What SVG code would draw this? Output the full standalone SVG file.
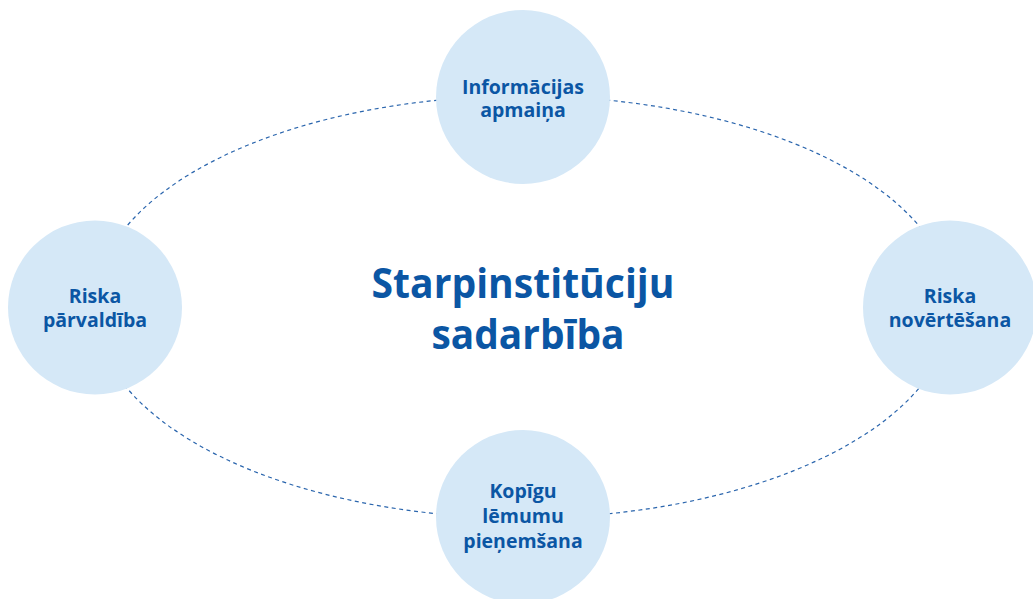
<svg xmlns="http://www.w3.org/2000/svg" width="1033" height="599" viewBox="0 0 1033 599">
<style>
.node circle{fill:#d5e8f7;}
.lbl{font-family:"Open Sans","Noto Sans",sans-serif;font-weight:700;font-size:19.5px;fill:#0b56a4;text-anchor:middle;}
.title{font-family:"Open Sans","Noto Sans",sans-serif;font-weight:700;font-size:42px;fill:#0b56a4;text-anchor:middle;}
.conn{fill:none;stroke:#2a65ad;stroke-width:1.2;stroke-dasharray:4 3.5;}
</style>
<rect width="1033" height="599" fill="#ffffff"/>
<g id="connectors">
<ellipse class="conn" cx="523" cy="307" rx="429" ry="211"/>
</g>
<g id="center">
<text class="title" x="523" y="298" textLength="303" lengthAdjust="spacingAndGlyphs">Starpinstitūciju</text>
<text class="title" x="528" y="349" textLength="193" lengthAdjust="spacingAndGlyphs">sadarbība</text>
</g>
<g id="node-top" class="node">
<circle cx="523" cy="97" r="87"/>
<text class="lbl" x="523" y="94">Informācijas</text>
<text class="lbl" x="523" y="117">apmaiņa</text>
</g>
<g id="node-left" class="node">
<circle cx="95" cy="307.5" r="87"/>
<text class="lbl" x="95" y="303">Riska</text>
<text class="lbl" x="95" y="327">pārvaldība</text>
</g>
<g id="node-right" class="node">
<circle cx="950" cy="307.5" r="87"/>
<text class="lbl" x="950" y="303">Riska</text>
<text class="lbl" x="950" y="327">novērtēšana</text>
</g>
<g id="node-bottom" class="node">
<circle cx="523" cy="517" r="87"/>
<text class="lbl" x="523" y="498">Kopīgu</text>
<text class="lbl" x="523" y="523">lēmumu</text>
<text class="lbl" x="523" y="548">pieņemšana</text>
</g>
</svg>
